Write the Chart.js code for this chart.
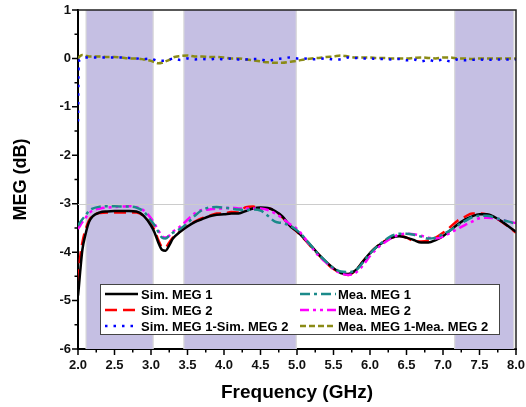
<!DOCTYPE html>
<html>
<head>
<meta charset="utf-8">
<script src="https://cdn.jsdelivr.net/npm/chart.js@4/dist/chart.umd.min.js"></script>
<style>
  html, body { margin: 0; padding: 0; background: #fff; }
  #wrap { width: 526px; height: 407px; }
</style>
</head>
<body>
<div id="wrap"><canvas id="chart" width="526" height="407"></canvas></div>
<script>
const freq = [
  2.0, 2.01, 2.03, 2.06, 2.1, 2.15, 2.2, 2.3, 2.4, 2.5,
  2.6, 2.7, 2.8, 2.9, 3.0, 3.05, 3.1, 3.15, 3.2, 3.25,
  3.3, 3.4, 3.5, 3.6, 3.7, 3.8, 3.9, 4.0, 4.1, 4.2,
  4.3, 4.4, 4.5, 4.6, 4.7, 4.8, 4.9, 5.0, 5.1, 5.2,
  5.3, 5.4, 5.5, 5.6, 5.7, 5.8, 5.9, 6.0, 6.1, 6.2,
  6.3, 6.4, 6.5, 6.6, 6.7, 6.8, 6.9, 7.0, 7.1, 7.2,
  7.3, 7.4, 7.5, 7.6, 7.7, 7.8, 7.9, 8.0
];

const simMeg1 = [
  -4.9, -4.75, -4.4, -3.95, -3.65, -3.38, -3.26, -3.18, -3.16, -3.15,
  -3.15, -3.15, -3.16, -3.25, -3.45, -3.6, -3.8, -3.95, -3.97, -3.86,
  -3.72, -3.58, -3.47, -3.38, -3.32, -3.26, -3.23, -3.22, -3.2, -3.2,
  -3.15, -3.1, -3.08, -3.09, -3.15, -3.26, -3.45, -3.57, -3.72, -3.88,
  -4.05, -4.2, -4.33, -4.43, -4.45, -4.38, -4.2, -4.02, -3.88, -3.78,
  -3.7, -3.67, -3.7, -3.75, -3.8, -3.8, -3.75, -3.67, -3.55, -3.43,
  -3.33, -3.26, -3.22, -3.22, -3.27, -3.36, -3.47, -3.58
];

const simMeg2 = [
  -4.6, -4.45, -4.1, -3.8, -3.55, -3.35, -3.25, -3.19, -3.18, -3.18,
  -3.18, -3.18, -3.18, -3.25, -3.42, -3.55, -3.75, -3.89, -3.9, -3.8,
  -3.7, -3.57, -3.45, -3.37, -3.3, -3.25, -3.2, -3.2, -3.17, -3.18,
  -3.07, -3.06, -3.1, -3.1, -3.15, -3.28, -3.45, -3.58, -3.73, -3.9,
  -4.06, -4.22, -4.35, -4.43, -4.47, -4.38, -4.2, -4.02, -3.88, -3.77,
  -3.7, -3.66, -3.7, -3.77, -3.78, -3.76, -3.7, -3.6, -3.48, -3.35,
  -3.27, -3.2, -3.2, -3.22, -3.28, -3.37, -3.48, -3.6
];

const meaMeg1 = [
  -3.45, -3.43, -3.38, -3.32, -3.25, -3.15, -3.1, -3.06, -3.05, -3.05,
  -3.06, -3.06, -3.08, -3.16, -3.35, -3.45, -3.58, -3.7, -3.72, -3.66,
  -3.6, -3.52, -3.4, -3.25, -3.13, -3.08, -3.07, -3.08, -3.1, -3.12,
  -3.13, -3.12, -3.14, -3.25, -3.37, -3.4, -3.45, -3.55, -3.7, -3.88,
  -4.05, -4.2, -4.33, -4.4, -4.41, -4.38, -4.22, -4.03, -3.88, -3.76,
  -3.66, -3.62, -3.62, -3.64, -3.68, -3.72, -3.7, -3.63, -3.55, -3.45,
  -3.36, -3.28, -3.25, -3.25, -3.28, -3.33, -3.37, -3.42
];

const meaMeg2 = [
  -3.52, -3.5, -3.45, -3.38, -3.3, -3.2, -3.14, -3.1, -3.08, -3.07,
  -3.06, -3.05, -3.07, -3.14, -3.3, -3.42, -3.55, -3.67, -3.7, -3.66,
  -3.58, -3.47, -3.33, -3.2, -3.13, -3.12, -3.1, -3.1, -3.08, -3.1,
  -3.1, -3.1, -3.1, -3.13, -3.2, -3.3, -3.42, -3.52, -3.7, -3.9,
  -4.08, -4.22, -4.35, -4.44, -4.47, -4.43, -4.28, -4.08, -3.92, -3.8,
  -3.7, -3.64, -3.62, -3.63, -3.66, -3.7, -3.72, -3.68, -3.6, -3.52,
  -3.44, -3.37, -3.3, -3.29, -3.3, -3.33, -3.37, -3.4
];

const simDiff = [
  -1.3, -0.1, -0.02, 0.0, 0.02, 0.02, 0.02, 0.02, 0.02, 0.02,
  0.02, 0.01, 0.0, -0.01, 0.0, -0.03, -0.05, -0.05, -0.05, -0.03,
  0.0, -0.03, 0.0, -0.02, -0.01, -0.02, 0.0, -0.02, 0.0, -0.02,
  -0.02, -0.01, -0.02, -0.05, -0.02, 0.0, 0.02, 0.0, 0.0, -0.02,
  -0.01, 0.0, -0.02, -0.02, 0.02, 0.01, 0.0, 0.0, -0.01, -0.01,
  -0.02, -0.01, -0.04, -0.02, -0.06, -0.03, -0.06, -0.02, -0.06, -0.02,
  -0.04, -0.03, -0.02, -0.03, -0.02, -0.02, -0.02, -0.02
];

const meaDiff = [
  0.0, 0.02, 0.05, 0.07, 0.06, 0.04, 0.04, 0.04, 0.03, 0.03,
  0.02, 0.0, 0.0, -0.02, -0.05, -0.08, -0.1, -0.09, -0.06, -0.03,
  0.02, 0.05, 0.06, 0.04, 0.04, 0.03, 0.03, 0.02, 0.0, 0.0,
  -0.02, -0.04, -0.06, -0.08, -0.09, -0.09, -0.07, -0.05, -0.02, 0.0,
  0.01, 0.03, 0.04, 0.06, 0.04, 0.02, 0.02, 0.02, 0.01, 0.01,
  0.0, 0.0, 0.0, 0.01, 0.02, 0.01, 0.0, 0.02, 0.02, 0.0,
  0.0, -0.01, 0.0, 0.0, 0.0, 0.0, 0.0, 0.0
];

// shaded frequency bands [start, end] in GHz
const bands = [[2.11, 3.03], [3.45, 4.99], [7.16, 7.97]];

const xTicks = [2.0, 2.5, 3.0, 3.5, 4.0, 4.5, 5.0, 5.5, 6.0, 6.5, 7.0, 7.5, 8.0];
const yTicks = [-6, -5, -4, -3, -2, -1, 0, 1];

const FONT = "'Liberation Sans', Arial, sans-serif";

function pts(values) {
  return freq.map((f, i) => ({ x: f, y: values[i] }));
}

const series = [
  { label: "Mea. MEG 1", data: meaMeg1, color: "#1b8a8a", dash: [10, 4, 3, 4] },
  { label: "Mea. MEG 2", data: meaMeg2, color: "#ff00ff", dash: [9, 4, 3, 4, 3, 4] },
  { label: "Sim. MEG 1", data: simMeg1, color: "#000000", dash: [] },
  { label: "Sim. MEG 2", data: simMeg2, color: "#ff0000", dash: [12, 6] },
  { label: "Sim. MEG 1-Sim. MEG 2", data: simDiff, color: "#0000ff", dash: [2.5, 6] },
  { label: "Mea. MEG 1-Mea. MEG 2", data: meaDiff, color: "#8b8b16", dash: [6, 3] },
];

const legendOrder = [
  ["Sim. MEG 1", "Mea. MEG 1"],
  ["Sim. MEG 2", "Mea. MEG 2"],
  ["Sim. MEG 1-Sim. MEG 2", "Mea. MEG 1-Mea. MEG 2"],
];

const backdrop = {
  id: "backdrop",
  beforeDatasetsDraw(chart) {
    const { ctx, chartArea: a, scales: { x, y } } = chart;
    ctx.save();
    bands.forEach(([s, e]) => {
      const x0 = x.getPixelForValue(s);
      const x1 = x.getPixelForValue(e);
      ctx.fillStyle = "#c5bfe3";
      ctx.fillRect(x0, a.top, x1 - x0, a.bottom - a.top);
      ctx.strokeStyle = "#dadada";
      ctx.lineWidth = 1.2;
      ctx.beginPath();
      ctx.moveTo(x0, a.top); ctx.lineTo(x0, a.bottom);
      ctx.moveTo(x1, a.top); ctx.lineTo(x1, a.bottom);
      ctx.stroke();
    });
    const y3 = Math.round(y.getPixelForValue(-3)) + 0.5;
    ctx.strokeStyle = "#cccccc";
    ctx.lineWidth = 1;
    ctx.beginPath();
    ctx.moveTo(a.left, y3); ctx.lineTo(a.right, y3);
    ctx.stroke();
    ctx.restore();
  },
  afterDatasetsDraw(chart) {
    const { ctx } = chart;
    const box = { left: 100, top: 284, width: 399, height: 50 };
    ctx.save();
    ctx.fillStyle = "#ffffff";
    ctx.fillRect(box.left, box.top, box.width, box.height);
    ctx.strokeStyle = "#444";
    ctx.lineWidth = 1;
    ctx.strokeRect(box.left + 0.5, box.top + 0.5, box.width, box.height);
    const rows = [294, 310, 326];
    const cols = [{ l0: 105, l1: 138, t: 141 }, { l0: 300, l1: 336, t: 338 }];
    ctx.font = "bold 13px " + FONT;
    ctx.textBaseline = "middle";
    legendOrder.forEach((row, r) => {
      row.forEach((name, c) => {
        const s = series.find((d) => d.label === name);
        const col = cols[c];
        ctx.strokeStyle = s.color;
        ctx.lineWidth = 2.5;
        ctx.setLineDash(s.dash);
        ctx.beginPath();
        ctx.moveTo(col.l0, rows[r]);
        ctx.lineTo(col.l1, rows[r]);
        ctx.stroke();
        ctx.setLineDash([]);
        ctx.fillStyle = "#000";
        ctx.fillText(name, col.t, rows[r] + 1);
      });
    });
    ctx.restore();
  },
  afterDraw(chart) {
    const { ctx, chartArea: a, scales: { x, y } } = chart;
    ctx.save();
    ctx.strokeStyle = "#222";
    ctx.lineWidth = 1.5;
    ctx.beginPath();
    ctx.moveTo(a.left, a.top); ctx.lineTo(a.right, a.top); ctx.lineTo(a.right, a.bottom);
    ctx.stroke();
    ctx.lineWidth = 1.5;
    ctx.strokeStyle = "#000";
    ctx.beginPath();
    for (let v = 2; v <= 8.001; v += 0.25) {
      const px = x.getPixelForValue(v);
      const major = Math.abs(v * 2 - Math.round(v * 2)) < 1e-6;
      ctx.moveTo(px, a.bottom);
      ctx.lineTo(px, a.bottom + (major ? 6 : 3.5));
    }
    for (let v = -6; v <= 1.001; v += 0.5) {
      const py = y.getPixelForValue(v);
      const major = Math.abs(v - Math.round(v)) < 1e-6;
      ctx.moveTo(a.left, py);
      ctx.lineTo(a.left - (major ? 6 : 3.5), py);
    }
    ctx.stroke();
    ctx.restore();
  },
};

new Chart(document.getElementById("chart"), {
  type: "line",
  data: {
    datasets: series.map((s) => ({
      label: s.label,
      data: pts(s.data),
      borderColor: s.color,
      borderDash: s.dash,
      borderWidth: 2.5,
      pointRadius: 0,
      fill: false,
      cubicInterpolationMode: "monotone",
    })),
  },
  options: {
    responsive: false,
    animation: false,
    layout: { padding: { top: 10, right: 10, left: 0, bottom: 0 } },
    plugins: { legend: { display: false }, tooltip: { enabled: false } },
    scales: {
      x: {
        type: "linear",
        min: 2,
        max: 8,
        afterBuildTicks: (scale) => {
          scale.ticks = xTicks.map((v) => ({ value: v }));
        },
        afterFit: (scale) => {
          scale.height = 58;
          scale.paddingLeft = 0;
          scale.paddingRight = 0;
        },
        grid: { display: false, drawTicks: false },
        border: { display: true, color: "#000", width: 2 },
        ticks: {
          autoSkip: false,
          maxRotation: 0,
          padding: 9,
          color: "#111",
          font: { family: FONT, size: 13, weight: "bold" },
          callback: (v) => Number(v).toFixed(1),
        },
        title: {
          display: true,
          text: "Frequency (GHz)",
          color: "#000",
          font: { family: FONT, size: 19, weight: "bold" },
          padding: { top: 0, bottom: 3 },
        },
      },
      y: {
        type: "linear",
        min: -6,
        max: 1,
        afterBuildTicks: (scale) => {
          scale.ticks = yTicks.map((v) => ({ value: v }));
        },
        afterFit: (scale) => {
          scale.width = 78;
          scale.paddingTop = 0;
          scale.paddingBottom = 0;
        },
        grid: { display: false, drawTicks: false },
        border: { display: true, color: "#000", width: 2 },
        ticks: {
          padding: 7,
          color: "#111",
          font: { family: FONT, size: 13, weight: "bold" },
          callback: (v) => String(v),
        },
        title: {
          display: true,
          text: "MEG (dB)",
          color: "#000",
          font: { family: FONT, size: 18, weight: "bold" },
          padding: { top: 10, bottom: 0 },
        },
      },
    },
  },
  plugins: [backdrop],
});
</script>
</body>
</html>
